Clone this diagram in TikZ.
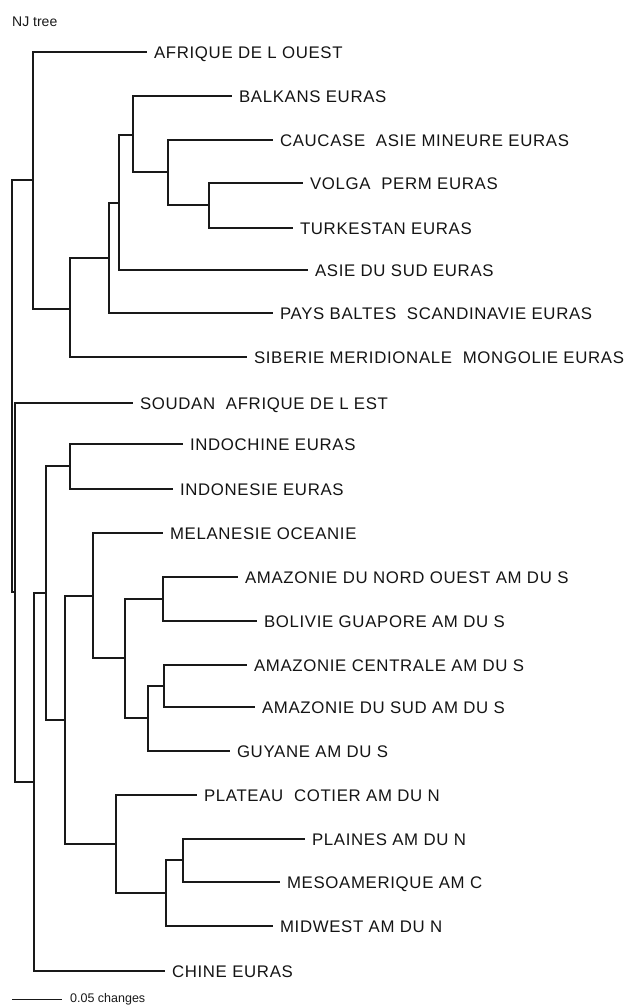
\documentclass[tikz,border=0pt]{standalone}
\usepackage{fontspec}
\setmainfont{Liberation Sans}
\newfontfamily\labfont[LetterSpace=4]{Liberation Sans}
\begin{document}
\begin{tikzpicture}[x=1pt,y=-1pt,
  edge/.style={line width=1.3pt,black!90},
  lab/.style={anchor=west,inner xsep=7pt,inner ysep=0pt,outer sep=0pt,
    text height=12pt,text depth=0pt,font=\labfont\fontsize{16.8}{17}\selectfont,text=black!92},
  small/.style={anchor=west,inner sep=0pt,font=\fontsize{12.5}{13}\selectfont,text=black!90}]
\useasboundingbox (0,0) rectangle (630,1005);
\node[small,font=\fontsize{14}{15}\selectfont] (title) at (12,22) {NJ tree};
% leaves (line end positions)
\node[lab] (afr) at (147,52) {AFRIQUE DE L OUEST};
\node[lab] (balk) at (232,96) {BALKANS EURAS};
\node[lab] (cauc) at (273,140) {CAUCASE\ \ ASIE MINEURE EURAS};
\node[lab] (volga) at (303,183) {VOLGA\ \ PERM EURAS};
\node[lab] (turk) at (293,228) {TURKESTAN EURAS};
\node[lab] (asie) at (308,270) {ASIE DU SUD EURAS};
\node[lab] (pays) at (273,313) {PAYS BALTES\ \ SCANDINAVIE EURAS};
\node[lab] (sib) at (247,357) {SIBERIE MERIDIONALE\ \ MONGOLIE EURAS};
\node[lab] (soud) at (133,403) {SOUDAN\ \ AFRIQUE DE L EST};
\node[lab] (indoch) at (183,444) {INDOCHINE EURAS};
\node[lab] (indon) at (173,489) {INDONESIE EURAS};
\node[lab] (melan) at (163,533) {MELANESIE OCEANIE};
\node[lab] (amzno) at (238,577) {AMAZONIE DU NORD OUEST AM DU S};
\node[lab] (boliv) at (257,621) {BOLIVIE GUAPORE AM DU S};
\node[lab] (amzc) at (247,665) {AMAZONIE CENTRALE AM DU S};
\node[lab] (amzs) at (255,707) {AMAZONIE DU SUD AM DU S};
\node[lab] (guy) at (230,751) {GUYANE AM DU S};
\node[lab] (plat) at (197,795) {PLATEAU\ \ COTIER AM DU N};
\node[lab] (plaines) at (305,839) {PLAINES AM DU N};
\node[lab] (meso) at (280,882) {MESOAMERIQUE AM C};
\node[lab] (midw) at (273,926) {MIDWEST AM DU N};
\node[lab] (chine) at (165,971) {CHINE EURAS};
% internal nodes
\coordinate (root) at (12,386);
\coordinate (neur) at (33,180);
\coordinate (ns) at (70,309);
\coordinate (np) at (109,258);
\coordinate (na) at (119,203);
\coordinate (nb) at (133,135);
\coordinate (nc) at (168,172);
\coordinate (nvt) at (209,205);
\coordinate (nB) at (15,592);
\coordinate (nC) at (34,782);
\coordinate (nD) at (46,593);
\coordinate (nindo) at (70,466);
\coordinate (nE) at (65,720);
\coordinate (nF) at (93,596);
\coordinate (nH) at (125,658);
\coordinate (nI) at (163,599);
\coordinate (nJ) at (148,718);
\coordinate (nK) at (164,686);
\coordinate (nG) at (116,844);
\coordinate (nL) at (166,893);
\coordinate (nM) at (183,860);
% edges
\draw[edge] (root) |- (neur) (root) |- (nB);
\draw[edge] (neur) |- (afr.west) (neur) |- (ns);
\draw[edge] (ns) |- (np) (ns) |- (sib.west);
\draw[edge] (np) |- (na) (np) |- (pays.west);
\draw[edge] (na) |- (nb) (na) |- (asie.west);
\draw[edge] (nb) |- (balk.west) (nb) |- (nc);
\draw[edge] (nc) |- (cauc.west) (nc) |- (nvt);
\draw[edge] (nvt) |- (volga.west) (nvt) |- (turk.west);
\draw[edge] (nB) |- (soud.west) (nB) |- (nC);
\draw[edge] (nC) |- (nD) (nC) |- (chine.west);
\draw[edge] (nD) |- (nindo) (nD) |- (nE);
\draw[edge] (nindo) |- (indoch.west) (nindo) |- (indon.west);
\draw[edge] (nE) |- (nF) (nE) |- (nG);
\draw[edge] (nF) |- (melan.west) (nF) |- (nH);
\draw[edge] (nH) |- (nI) (nH) |- (nJ);
\draw[edge] (nI) |- (amzno.west) (nI) |- (boliv.west);
\draw[edge] (nJ) |- (nK) (nJ) |- (guy.west);
\draw[edge] (nK) |- (amzc.west) (nK) |- (amzs.west);
\draw[edge] (nG) |- (plat.west) (nG) |- (nL);
\draw[edge] (nL) |- (nM) (nL) |- (midw.west);
\draw[edge] (nM) |- (plaines.west) (nM) |- (meso.west);
% scale bar
\coordinate (sb0) at (12,999);
\node[small] (sblab) at (70,999) {0.05 changes};
\draw[edge,line width=1pt] (sb0) -- (62,999);
\end{tikzpicture}
\end{document}
